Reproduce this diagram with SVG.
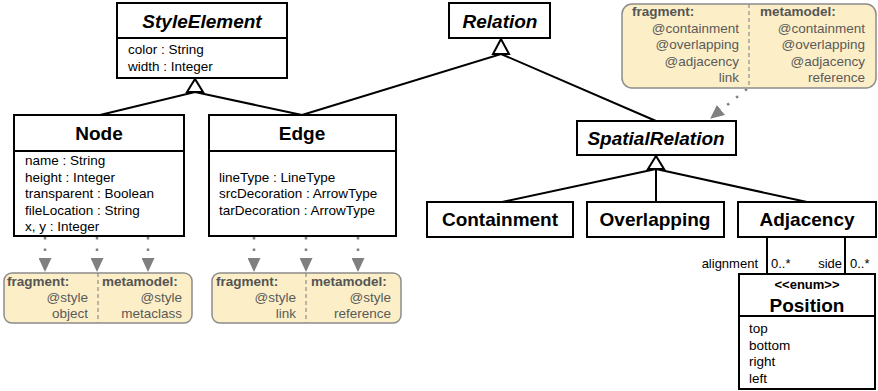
<svg xmlns="http://www.w3.org/2000/svg" width="878" height="391" viewBox="0 0 878 391">
  <style>
    .box { fill: #ffffff; stroke: #000000; stroke-width: 2; }
    .sep { stroke: #000000; stroke-width: 2; }
    .edge { fill: none; stroke: #000000; stroke-width: 2; }
    .gen { fill: #ffffff; stroke: #000000; stroke-width: 2; stroke-linejoin: miter; }
    .title { font-family: "Liberation Sans", Arial, sans-serif; font-size: 19px; font-weight: bold; fill: #000000; text-anchor: middle; }
    .abstract { font-style: italic; }
    .attr { font-family: "Liberation Sans", Arial, sans-serif; font-size: 13.5px; fill: #000000; }
    .lbl { font-family: "Liberation Sans", Arial, sans-serif; font-size: 13px; fill: #000000; }
    .stereo { font-family: "Liberation Sans", Arial, sans-serif; font-size: 13px; font-weight: bold; fill: #000000; text-anchor: middle; }
    .note { fill: #fcefc7; stroke: #8c8c8c; stroke-width: 1.5; }
    .noteSep { stroke: #8c8c8c; stroke-width: 1.2; stroke-dasharray: 4 3; }
    .nhead { font-family: "Liberation Sans", Arial, sans-serif; font-size: 13.5px; font-weight: bold; fill: #555555; }
    .ntext { font-family: "Liberation Sans", Arial, sans-serif; font-size: 13.5px; fill: #5a5a5a; text-anchor: end; }
    .dotted { fill: none; stroke: #808080; stroke-width: 2.5; stroke-dasharray: 2.5 9; }
  </style>
  <defs>
    <marker id="greyHead" viewBox="0 0 14 13" refX="0" refY="6.5" markerWidth="14" markerHeight="13" markerUnits="userSpaceOnUse" orient="auto">
      <path d="M0,0 L14,6.5 L0,13 Z" fill="#808080"/>
    </marker>
  </defs>

  <!-- generalization and association lines -->
  <g id="connectors">
    <polyline class="edge" points="100,115 195,92 302,115"/>
    <polygon class="gen" points="195,79 187,92 203,92"/>
    <polyline class="edge" points="302,115 501,54 656,121"/>
    <polygon class="gen" points="501,39 493,54 509,54"/>
    <line class="edge" x1="656" y1="169" x2="502" y2="202"/>
    <line class="edge" x1="656" y1="169" x2="656" y2="202"/>
    <line class="edge" x1="656" y1="169" x2="807" y2="202"/>
    <polygon class="gen" points="656,156 648,169 664,169"/>
    <line class="edge" x1="767" y1="237" x2="767" y2="274"/>
    <line class="edge" x1="845" y1="237" x2="845" y2="274"/>
    <text class="lbl" x="758" y="268" text-anchor="end">alignment</text>
    <text class="lbl" x="771" y="268">0..*</text>
    <text class="lbl" x="842" y="268" text-anchor="end">side</text>
    <text class="lbl" x="850" y="268">0..*</text>
    <!-- style annotations -->
    <line class="dotted" x1="45" y1="237" x2="45" y2="258" marker-end="url(#greyHead)"/>
    <line class="dotted" x1="97" y1="237" x2="97" y2="258" marker-end="url(#greyHead)"/>
    <line class="dotted" x1="148" y1="237" x2="148" y2="258" marker-end="url(#greyHead)"/>
    <line class="dotted" x1="254" y1="237" x2="254" y2="258" marker-end="url(#greyHead)"/>
    <line class="dotted" x1="306" y1="237" x2="306" y2="258" marker-end="url(#greyHead)"/>
    <line class="dotted" x1="358" y1="237" x2="358" y2="258" marker-end="url(#greyHead)"/>
    <line class="dotted" x1="747" y1="89" x2="721" y2="110" marker-end="url(#greyHead)"/>
  </g>

  <g id="StyleElement">
    <rect class="box" x="117" y="3" width="170" height="75"/>
    <line class="sep" x1="117" y1="38" x2="287" y2="38"/>
    <text class="title abstract" x="202" y="28">StyleElement</text>
    <text class="attr" x="128" y="54">color : String</text>
    <text class="attr" x="128" y="71">width : Integer</text>
  </g>

  <g id="Relation">
    <rect class="box" x="449" y="3" width="101" height="35"/>
    <text class="title abstract" x="500" y="28">Relation</text>
  </g>

  <g id="Node">
    <rect class="box" x="14" y="115" width="170" height="121"/>
    <line class="sep" x1="14" y1="151" x2="184" y2="151"/>
    <text class="title" x="99" y="140">Node</text>
    <text class="attr" x="25" y="165">name : String</text>
    <text class="attr" x="25" y="182">height : Integer</text>
    <text class="attr" x="25" y="198">transparent : Boolean</text>
    <text class="attr" x="25" y="215">fileLocation : String</text>
    <text class="attr" x="25" y="231">x, y : Integer</text>
  </g>

  <g id="Edge">
    <rect class="box" x="209" y="115" width="187" height="121"/>
    <line class="sep" x1="209" y1="151" x2="396" y2="151"/>
    <text class="title" x="302" y="140">Edge</text>
    <text class="attr" x="219" y="182">lineType : LineType</text>
    <text class="attr" x="219" y="198">srcDecoration : ArrowType</text>
    <text class="attr" x="219" y="215">tarDecoration : ArrowType</text>
  </g>

  <g id="SpatialRelation">
    <rect class="box" x="577" y="121" width="159" height="34"/>
    <text class="title abstract" x="656" y="145">SpatialRelation</text>
  </g>

  <g id="Containment">
    <rect class="box" x="427" y="202" width="146" height="35"/>
    <text class="title" x="500" y="226">Containment</text>
  </g>

  <g id="Overlapping">
    <rect class="box" x="587" y="202" width="137" height="35"/>
    <text class="title" x="655" y="226">Overlapping</text>
  </g>

  <g id="Adjacency">
    <rect class="box" x="738" y="202" width="138" height="35"/>
    <text class="title" x="807" y="226">Adjacency</text>
  </g>

  <g id="Position">
    <rect class="box" x="739" y="274" width="136" height="115"/>
    <line class="sep" x1="739" y1="316" x2="875" y2="316"/>
    <text class="stereo" x="807" y="289">&lt;&lt;enum&gt;&gt;</text>
    <text class="title" x="807" y="312">Position</text>
    <text class="attr" x="749" y="333">top</text>
    <text class="attr" x="749" y="350">bottom</text>
    <text class="attr" x="749" y="366">right</text>
    <text class="attr" x="749" y="383">left</text>
  </g>

  <g id="NodeStyleNote">
    <rect class="note" x="4" y="273" width="188" height="50" rx="8"/>
    <line class="noteSep" x1="98" y1="273" x2="98" y2="323"/>
    <text class="nhead" x="7" y="286">fragment:</text>
    <text class="ntext" x="88" y="302">@style</text>
    <text class="ntext" x="88" y="318">object</text>
    <text class="nhead" x="102" y="286">metamodel:</text>
    <text class="ntext" x="182" y="302">@style</text>
    <text class="ntext" x="182" y="318">metaclass</text>
  </g>

  <g id="EdgeStyleNote">
    <rect class="note" x="212" y="273" width="189" height="50" rx="8"/>
    <line class="noteSep" x1="306" y1="273" x2="306" y2="323"/>
    <text class="nhead" x="216" y="286">fragment:</text>
    <text class="ntext" x="296" y="302">@style</text>
    <text class="ntext" x="296" y="318">link</text>
    <text class="nhead" x="311" y="286">metamodel:</text>
    <text class="ntext" x="391" y="302">@style</text>
    <text class="ntext" x="391" y="318">reference</text>
  </g>

  <g id="RelationNote">
    <rect class="note" x="622" y="4" width="254" height="84" rx="10"/>
    <line class="noteSep" x1="749" y1="4" x2="749" y2="88"/>
    <text class="nhead" x="632" y="16">fragment:</text>
    <text class="ntext" x="739" y="33">@containment</text>
    <text class="ntext" x="739" y="49">@overlapping</text>
    <text class="ntext" x="739" y="66">@adjacency</text>
    <text class="ntext" x="739" y="82">link</text>
    <text class="nhead" x="760" y="16">metamodel:</text>
    <text class="ntext" x="865" y="33">@containment</text>
    <text class="ntext" x="865" y="49">@overlapping</text>
    <text class="ntext" x="865" y="66">@adjacency</text>
    <text class="ntext" x="865" y="82">reference</text>
  </g>
</svg>
